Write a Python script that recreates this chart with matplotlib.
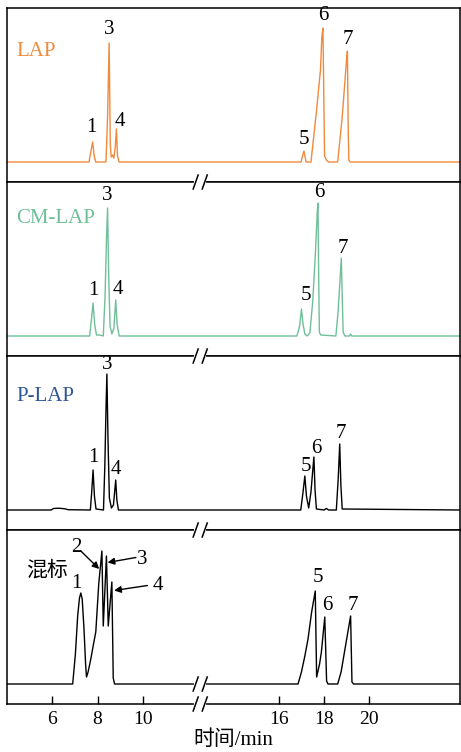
import matplotlib
matplotlib.use("Agg")
import matplotlib.pyplot as plt
import matplotlib.transforms as mtransforms
from matplotlib.lines import Line2D

plt.rcParams['font.family'] = ['Liberation Serif', 'Noto Sans CJK SC']

# ---- data (time in min, signal in arbitrary units above baseline) ----
lap_t = [4.0, 7.62, 7.7, 7.78, 7.85, 7.92, 8.37, 8.44, 8.51, 8.56, 8.6, 8.66, 8.72, 8.78, 8.83, 8.88, 8.95,
         16.98, 17.07, 17.11, 17.16, 17.21, 17.42, 17.66, 17.84, 17.9, 17.95, 17.99, 18.02, 18.1, 18.2,
         18.6, 18.8, 18.95, 19.0, 19.03, 19.06, 19.09, 19.15, 24.0]
lap_s = [0, 0, 10, 20, 6, 0, 0, 45, 119, 18, 5, 7, 4, 15, 33, 6, 0,
         0, 8, 11, 5, 0, 0, 50, 92, 125, 134, 60, 6, 2, 0,
         0, 45, 90, 105, 111, 40, 2, 0, 0]

cm_t = [4.0, 7.65, 7.72, 7.8, 7.87, 7.95, 8.1, 8.25, 8.33, 8.39, 8.44, 8.49, 8.55, 8.63, 8.72, 8.8, 8.86, 8.95,
        16.8, 16.92, 17.0, 17.07, 17.15, 17.25, 17.37, 17.5, 17.62, 17.7, 17.73, 17.76, 17.79, 17.85,
        18.52, 18.62, 18.7, 18.76, 18.8, 18.84, 18.92, 19.12, 19.17, 19.22, 24.0]
cm_s = [0, 0, 15, 33, 12, 1, 1, 0, 40, 95, 128, 60, 10, 2, 8, 36, 12, 0,
        0, 10, 27, 12, 2, 0, 3, 35, 85, 125, 133, 60, 4, 1,
        0, 25, 55, 78, 40, 4, 0, 0, 2, 0, 0]

p_t = [4.0, 5.95, 6.05, 6.3, 6.55, 6.7, 7.68, 7.74, 7.8, 7.86, 7.93, 8.26, 8.32, 8.37, 8.41, 8.46, 8.52, 8.61,
       8.7, 8.76, 8.8, 8.85, 8.92, 16.97, 17.07, 17.15, 17.22, 17.32, 17.42, 17.5, 17.55, 17.6, 17.66,
       18.0, 18.1, 18.2, 18.54, 18.62, 18.69, 18.74, 18.8, 24.0]
p_s = [0, 0, 1.5, 1.8, 1.2, 0.3, 0, 18, 40, 14, 1, 0, 45, 100, 136, 70, 12, 2,
       5, 20, 30, 10, 0, 0, 18, 34, 14, 2, 18, 40, 53, 20, 1,
       0, 1.5, 0, 0, 30, 66, 25, 1, 0]

mix_t = [4.0, 6.9, 7.02, 7.12, 7.2, 7.26, 7.32, 7.4, 7.47, 7.51, 7.58, 7.7, 7.82, 7.92, 8.05, 8.19, 8.25,
         8.39, 8.47, 8.63, 8.69, 8.75, 16.85, 17.0, 17.15, 17.29, 17.45, 17.61, 17.67, 17.8, 17.88, 18.03,
         18.11, 18.17, 18.6, 18.75, 18.9, 19.05, 19.17, 19.23, 19.3, 24.0]
mix_s = [0, 0, 30, 68, 86, 91, 85, 55, 20, 7, 12, 25, 40, 52, 100, 133, 58,
         128, 58, 102, 6, 0, 0, 12, 28, 45, 72, 93, 7, 20, 32, 67,
         3, 0, 0, 12, 32, 52, 68, 2, 0, 0]

names = ['LAP', 'CM-LAP', 'P-LAP', '混标']
name_colors = ['#F08A3C', '#6FBF99', '#2E5597', 'black']
line_colors = ['#F08A3C', '#6FBF99', 'black', 'black']
traces = [(lap_t, lap_s), (cm_t, cm_s), (p_t, p_s), (mix_t, mix_s)]

# peak labels (number, time, height)
peak_labels = [
    [('1', 7.72, 35), ('3', 8.51, 133), ('4', 8.98, 41), ('5', 17.1, 23), ('6', 17.98, 146), ('7', 19.04, 123)],
    [('1', 7.81, 45), ('3', 8.42, 140), ('4', 8.91, 46), ('5', 17.18, 40), ('6', 17.79, 143), ('7', 18.83, 87)],
    [('1', 7.82, 52), ('3', 8.42, 145), ('4', 8.82, 40), ('5', 17.18, 43), ('6', 17.67, 61), ('7', 18.72, 76)],
    [('1', 7.07, 101), ('5', 17.73, 107), ('6', 18.16, 79), ('7', 19.26, 78)],
]
# arrows in mixture panel: (label, text pos, arrow start, arrow tip)
mix_arrows = [
    ('2', (7.04, 137), (7.26, 133), (8.07, 115)),
    ('3', (9.98, 125), (9.69, 126.5), (8.44, 121.5)),
    ('4', (10.64, 99), (10.2, 98.5), (8.73, 93.5)),
]

xticks = [6, 8, 10, 16, 18, 20]
break_x = [12.33, 12.73]

W, H = 461, 752
fig = plt.figure(figsize=(W / 100, H / 100), dpi=100)

left = 7 / W
width = (460 - 7) / W
ph = 174
axes = []
for i in range(4):
    top_px = 8 + ph * i
    ax = fig.add_axes([left, 1 - (top_px + ph) / H, width, ph / H])
    t, s = traces[i]
    ax.plot(t, s, color=line_colors[i], lw=1.0)
    ax.set_xlim(4, 24)
    ax.set_ylim(-20, 154)
    ax.set_yticks([])
    for sp in ax.spines.values():
        sp.set_linewidth(1.1)
    ax.text(4.41 if i < 3 else 4.84, [110, 117, 113, 113][i], names[i], color=name_colors[i],
            fontsize=15, ha='left', va='center')
    for lab, x, y in peak_labels[i]:
        ax.text(x, y, lab, fontsize=15, ha='center', va='center')
    axes.append(ax)

for ax in axes[:3]:
    ax.set_xticks([])

ax4 = axes[3]
ax4.set_xticks(xticks)
ax4.set_xticklabels([str(v) for v in xticks])
ax4.tick_params(axis='x', direction='in', length=6, width=1, labelsize=14, pad=5)
ax4.set_xlabel('时间/min', fontsize=15, labelpad=2)

for lab, tpos, start, tip in mix_arrows:
    ax4.annotate('', xy=tip, xytext=start,
                 arrowprops=dict(arrowstyle='-|>', color='black', lw=1.0,
                                 mutation_scale=10, shrinkA=0, shrinkB=0))
    ax4.text(tpos[0], tpos[1], lab, fontsize=15, ha='center', va='center')

# axis break marks
trans = mtransforms.blended_transform_factory(ax4.transData, fig.transFigure)


def draw_break(yf):
    dy = 7 / H
    fig.add_artist(Line2D([break_x[0] + 0.03, break_x[1] - 0.03], [yf, yf], transform=trans,
                          color='white', lw=3, zorder=5))
    for xc in break_x:
        fig.add_artist(Line2D([xc - 0.11, xc + 0.11], [yf - dy, yf + dy], transform=trans,
                              color='black', lw=1.1, zorder=6))


for i in range(1, 5):
    draw_break(1 - (8 + ph * i) / H)

base_px = ax4.transData.transform((12.5, 0))[1]
draw_break(base_px / H)

fig.savefig('out.png', dpi=100)
